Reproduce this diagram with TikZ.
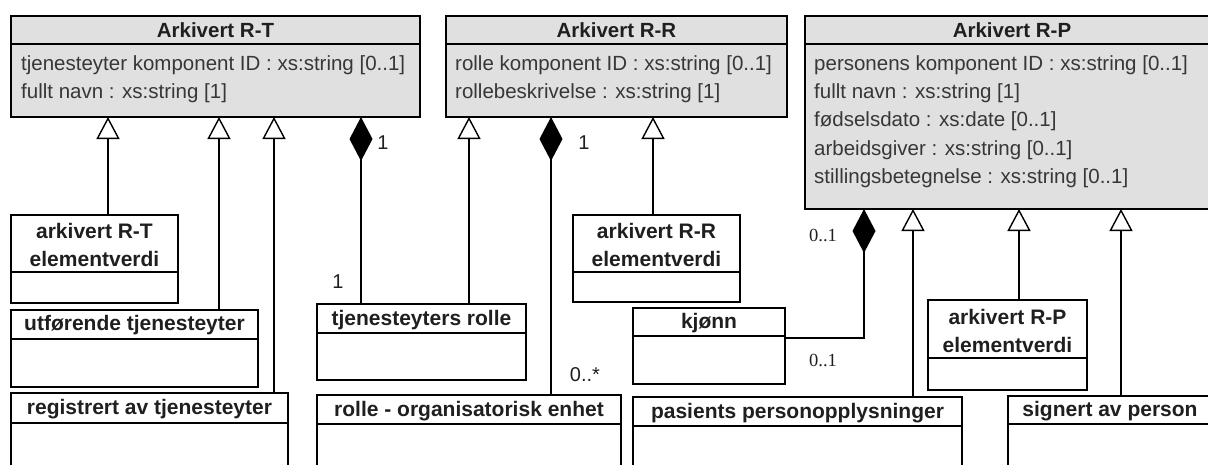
\documentclass[tikz,border=0pt]{standalone}
\usepackage{fontspec}
\setmainfont{Liberation Sans}
\newfontfamily\serifnum{Liberation Serif}
\usetikzlibrary{arrows.meta}
\definecolor{boxfill}{RGB}{224,224,224}
\definecolor{attrtext}{RGB}{55,55,55}
\begin{document}
\begin{tikzpicture}[x=1pt,y=-1pt,
  cls/.style={draw=black, line width=1.4pt, inner sep=0pt, outer sep=0pt, anchor=north west, fill=white},
  topcls/.style={cls, fill=boxfill},
  divider/.style={line width=1.4pt},
  ttl/.style={font=\fontsize{20.5}{28}\selectfont\bfseries, text=black!88, inner sep=0pt, align=center},
  subttl/.style={ttl, font=\fontsize{21}{28}\selectfont\bfseries},
  attr/.style={font=\fontsize{20.5}{22}\selectfont, text=attrtext, anchor=west, inner sep=0pt},
  gen/.style={line width=1.4pt, -{Triangle[open, length=22pt, width=23pt, fill=white]}},
  comp/.style={line width=1.4pt, -{Diamond[length=44pt, width=23pt, fill=black]}},
  mult/.style={font=\fontsize{20}{22}\selectfont, text=black!88, inner sep=0pt},
  multserif/.style={font=\serifnum\fontsize{18.5}{22}\selectfont, text=black!88, inner sep=0pt}
]
\useasboundingbox (0,0) rectangle (1208,464);
\clip (0,0) rectangle (1208,464);

% ---------- top classes ----------
\node[topcls, minimum width=409pt, minimum height=101pt] (rt) at (11,16) {};
\node[topcls, minimum width=341pt, minimum height=101pt] (rr) at (446,16) {};
\node[topcls, minimum width=414pt, minimum height=193pt] (rp) at (805,16) {};
\draw[divider] (rt.west |- 0,44) -- (rt.east |- 0,44);
\draw[divider] (rr.west |- 0,44) -- (rr.east |- 0,44);
\draw[divider] (rp.west |- 0,44) -- (rp.east |- 0,44);

\node[ttl] (rtt) at (rt.north |- 0,30) {Arkivert R-T};
\node[ttl] (rrt) at (rr.north |- 0,30) {Arkivert R-R};
\node[ttl] (rpt) at (rp.north |- 0,30) {Arkivert R-P};

\node[attr] (rta1) at (21,65) {tjenesteyter komponent ID : xs:string [0..1]};
\node[attr] (rta2) at (21,93) {fullt navn : xs:string [1]};
\node[attr] (rra1) at (455,65) {rolle komponent ID : xs:string [0..1]};
\node[attr] (rra2) at (455,93) {rollebeskrivelse : xs:string [1]};
\node[attr] (rpa1) at (814,65) {personens komponent ID : xs:string [0..1]};
\node[attr] (rpa2) at (814,93) {fullt navn : xs:string [1]};
\node[attr] (rpa3) at (814,121) {fødselsdato : xs:date [0..1]};
\node[attr] (rpa4) at (814,150) {arbeidsgiver : xs:string [0..1]};
\node[attr] (rpa5) at (814,178) {stillingsbetegnelse : xs:string [0..1]};

% ---------- lower classes ----------
\node[cls, minimum width=167pt, minimum height=88pt]  (a) at (11,215) {};
\node[cls, minimum width=247pt, minimum height=77pt]  (b) at (11,310) {};
\node[cls, minimum width=277pt, minimum height=100pt] (c) at (11,393) {};
\node[cls, minimum width=209pt, minimum height=76pt]  (d) at (317,304) {};
\node[cls, minimum width=304pt, minimum height=100pt] (e) at (317,395) {};
\node[cls, minimum width=167pt, minimum height=87pt]  (f) at (573,215) {};
\node[cls, minimum width=152pt, minimum height=76pt]  (g) at (633,308) {};
\node[cls, minimum width=329pt, minimum height=100pt] (h) at (633,397) {};
\node[cls, minimum width=159pt, minimum height=90pt]  (i) at (928,300) {};
\node[cls, minimum width=204pt, minimum height=100pt] (j) at (1008,396) {};

\draw[divider] (a.west |- 0,272) -- (a.east |- 0,272);
\draw[divider] (b.west |- 0,339) -- (b.east |- 0,339);
\draw[divider] (c.west |- 0,423) -- (c.east |- 0,423);
\draw[divider] (d.west |- 0,333) -- (d.east |- 0,333);
\draw[divider] (e.west |- 0,424) -- (e.east |- 0,424);
\draw[divider] (f.west |- 0,272) -- (f.east |- 0,272);
\draw[divider] (g.west |- 0,336) -- (g.east |- 0,336);
\draw[divider] (h.west |- 0,426) -- (h.east |- 0,426);
\draw[divider] (i.west |- 0,358) -- (i.east |- 0,358);
\draw[divider] (j.west |- 0,424) -- (j.east |- 0,424);

\node[subttl] (at) at (a.north |- 0,245) {arkivert R-T\\elementverdi};
\node[subttl] (bt) at (b.north |- 0,325) {utførende tjenesteyter};
\node[subttl] (ct) at (c.north |- 0,409) {registrert av tjenesteyter};
\node[subttl] (dt) at (d.north |- 0,320) {tjenesteyters rolle};
\node[subttl] (et) at (e.north |- 0,411) {rolle - organisatorisk enhet};
\node[subttl] (ft) at (f.north |- 0,245) {arkivert R-R\\elementverdi};
\node[subttl] (gt) at (g.north |- 0,323) {kjønn};
\node[subttl] (ht) at (h.north |- 0,413) {pasients personopplysninger};
\node[subttl] (it) at (i.north |- 0,331) {arkivert R-P\\elementverdi};
\node[subttl] (jt) at (j.north |- 0,411) {signert av person};

% ---------- connectors ----------
\draw[gen] (a.north -| 108,0) -- (rt.south -| 108,0);
\draw[gen] (b.north -| 219,0) -- (rt.south -| 219,0);
\draw[gen] (c.north -| 274,0) -- (rt.south -| 274,0);
\draw[comp] (d.north -| 361,0) -- (rt.south -| 361,0);
\draw[gen] (d.north -| 469,0) -- (rr.south -| 469,0);
\draw[comp] (e.north -| 551,0) -- (rr.south -| 551,0);
\draw[gen] (f.north -| 653,0) -- (rr.south -| 653,0);
\coordinate (kbend) at (864,338);
\draw[comp] (g.east |- kbend) -- (kbend) -- (rp.south -| kbend);
\draw[gen] (h.north -| 913,0) -- (rp.south -| 913,0);
\draw[gen] (i.north -| 1019,0) -- (rp.south -| 1019,0);
\draw[gen] (j.north -| 1121,0) -- (rp.south -| 1121,0);

% ---------- multiplicities ----------
\node[mult] (m1) at (383,143) {1};
\node[mult] (m2) at (338,282) {1};
\node[mult] (m3) at (584,143) {1};
\node[mult] (m4) at (585,375) {0..*};
\node[multserif] (m5) at (823,235) {0..1};
\node[multserif] (m6) at (823,360) {0..1};
\end{tikzpicture}
\end{document}
